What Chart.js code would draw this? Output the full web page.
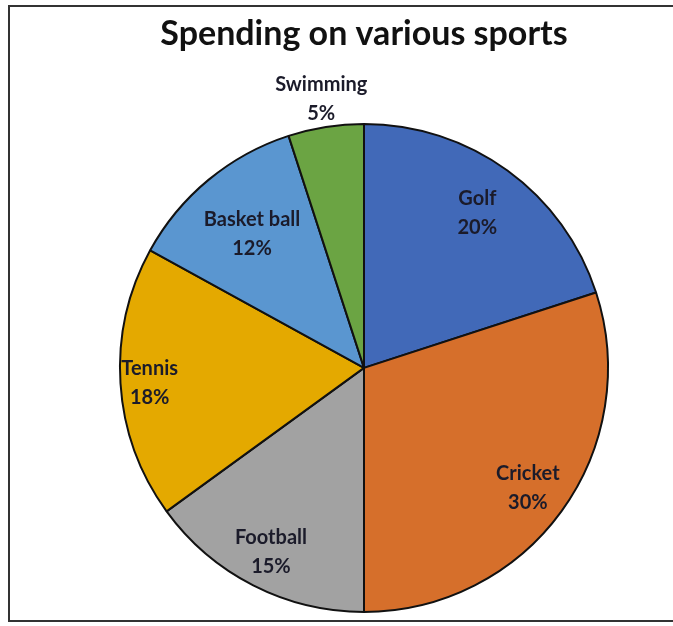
<!DOCTYPE html>
<html>
<head>
<meta charset="utf-8">
<script src="https://cdn.jsdelivr.net/npm/chart.js@4"></script>
<style>
  html, body { margin: 0; padding: 0; background: #fff; overflow: hidden; }
  #frame {
    position: absolute; left: 8px; top: 5px; width: 690px; height: 617px;
    border: 2px solid #333; box-sizing: border-box;
  }
  #wrap { position: absolute; left: 0; top: 0; width: 673px; height: 626px; }
</style>
</head>
<body>
<div id="frame"></div>
<div id="wrap"><canvas id="pie"></canvas></div>
<script>
const sports  = ["Golf", "Cricket", "Football", "Tennis", "Basket ball", "Swimming"];
const percent = [20, 30, 15, 18, 12, 5];
const colors  = ["#4169B8", "#D66F2B", "#A2A2A2", "#E4A900", "#5A96D0", "#6BA443"];

// label text inside slices (last one sits outside above the pie)
const sliceLabels = {
  id: "sliceLabels",
  afterDatasetsDraw(chart) {
    const ctx = chart.ctx;
    const arcs = chart.getDatasetMeta(0).data;
    ctx.save();
    ctx.font = "bold 20px Lato, 'Open Sans', sans-serif";
    ctx.fillStyle = "#1b1b2a";
    ctx.textAlign = "center";
    ctx.textBaseline = "middle";
    const dist = [0.79, 0.83, 0.84, 0.88, 0.72, 1.12];
    arcs.forEach((arc, i) => {
      const mid = (arc.startAngle + arc.endAngle) / 2;
      const r = arc.outerRadius * dist[i];
      const x = arc.x + Math.cos(mid) * r;
      const y = arc.y + Math.sin(mid) * r;
      ctx.fillText(sports[i], x, y - 13);
      ctx.fillText(percent[i] + "%", x, y + 16);
    });
    ctx.restore();
  }
};

new Chart(document.getElementById("pie"), {
  type: "pie",
  data: {
    labels: sports,
    datasets: [{
      data: percent,
      backgroundColor: colors,
      borderColor: "#111",
      borderWidth: 2
    }]
  },
  options: {
    responsive: true,
    maintainAspectRatio: false,
    animation: false,
    layout: { padding: { top: 0, bottom: 13, left: 119, right: 64 } },
    plugins: {
      legend: { display: false },
      tooltip: { enabled: false },
      title: {
        display: true,
        text: "Spending on various sports",
        color: "#111",
        font: { size: 34, weight: "bold", family: "Lato, 'Open Sans', sans-serif" },
        padding: { top: 14, bottom: 68 }
      }
    }
  },
  plugins: [sliceLabels]
});
</script>
</body>
</html>
